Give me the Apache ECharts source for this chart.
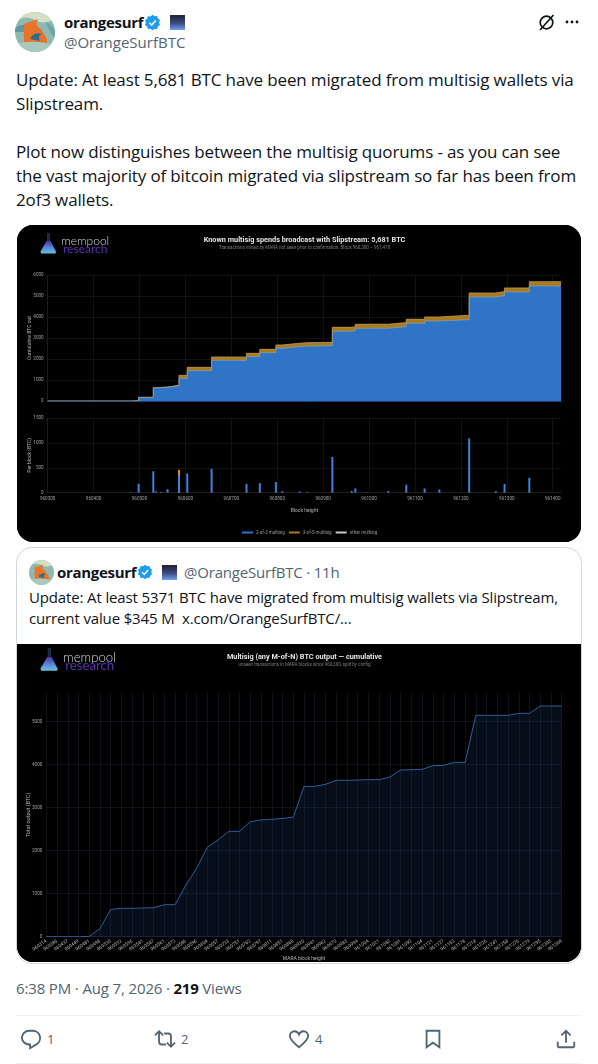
<!DOCTYPE html>
<html>
<head>
<meta charset="utf-8">
<script src="https://cdn.jsdelivr.net/npm/echarts@6/dist/echarts.min.js"></script>
<style>
  html, body { margin: 0; width: 598px; height: 1064px; background: #fff; overflow: hidden; }
  body { position: relative; font-family: "Open Sans", "Noto Sans", sans-serif; color: #0f1419; }
  .t { position: absolute; white-space: nowrap; line-height: 20px; height: 20px; letter-spacing: -0.14px; }
  .b { font-weight: 700; letter-spacing: -0.3px; }
  .g { color: #536471; }
  .i { position: absolute; }
  #card { position: absolute; left: 16px; top: 547px; width: 564px; height: 415px; border: 1px solid #cfd9de; border-radius: 16px; }
  .hr { position: absolute; left: 16px; width: 566px; height: 1px; background: #eff3f4; }
  #chartA { position: absolute; left: 17px; top: 225px; width: 564px; height: 317px; border-radius: 16px; overflow: hidden; background: #000; filter: blur(0.3px); }
  #chartB { position: absolute; left: 17px; top: 644px; width: 564px; height: 318px; border-radius: 0 0 16px 16px; overflow: hidden; background: #000; filter: blur(0.3px); }
</style>
</head>
<body>
<svg class="i" style="left:15px;top:12px" width="40" height="40" viewBox="0 0 40 40">
  <defs><clipPath id="av"><circle cx="20" cy="20" r="20"/></clipPath></defs>
  <g clip-path="url(#av)"><rect width="40" height="40" fill="#8fb9b0"/><path d="M0 10Q10 2 20 8T40 6V0H0Z" fill="#d5dfc8"/><path d="M0 16Q8 10 14 15V20H0Z" fill="#5f9aa0"/><path d="M9 32V12L23 7Q19 14 26 17L32 27V32Z" fill="#e8742a"/><path d="M15 27Q19 19 27 22Q22 24 25 29Z" fill="#2f6f86"/><path d="M0 32Q20 27 40 33V40H0Z" fill="#a8c9bd"/><path d="M30 10Q36 12 40 18V28Q34 18 30 10Z" fill="#6fa6a6"/></g>
</svg>
<div class="t b" style="left:64px;top:12px;font-size:15px">orangesurf</div>
<svg class="i" style="left:144px;top:14px" width="17" height="17" viewBox="0 0 22 22"><path d="M11 1l2.700 2 3.300-.3 1 3.200 2.700 2-1.200 3.100 1.200 3.100-2.700 2-1 3.200-3.300-.3L11 21l-2.700-2-3.300.3-1-3.200-2.700-2 1.200-3.100L1.300 8l2.700-2 1-3.200 3.300.3z" fill="#1d9bf0"/><path d="M7 11.300l3 3 5.300-6" stroke="#fff" stroke-width="2" fill="none"/></svg>
<svg class="i" style="left:170px;top:15px" width="15" height="15"><defs><linearGradient id="sq" x1="0" y1="0" x2="0" y2="1"><stop offset="0.1" stop-color="#25273f"/><stop offset="0.55" stop-color="#3e4a80"/><stop offset="1" stop-color="#6ea0f2"/></linearGradient></defs><rect width="15" height="15" fill="url(#sq)"/></svg>
<div class="t g" style="left:64px;top:32px;font-size:15px;letter-spacing:0">@OrangeSurfBTC</div>
<svg class="i" style="left:537px;top:13px" width="19" height="19" viewBox="0 0 19 19" fill="none" stroke="#0f1419" stroke-width="1.700"><circle cx="9.500" cy="9.500" r="6.300"/><path d="M3 17L16.500 2"/></svg>
<svg class="i" style="left:564px;top:19px" width="16" height="6"><circle cx="3" cy="3" r="1.400" fill="#0f1419"/><circle cx="8" cy="3" r="1.400" fill="#0f1419"/><circle cx="13" cy="3" r="1.400" fill="#0f1419"/></svg>

<div class="t" style="left:16px;top:70px;font-size:17px">Update: At least 5,681 BTC have been migrated from multisig wallets via</div>
<div class="t" style="left:16px;top:94px;font-size:17px">Slipstream.</div>
<div class="t" style="left:16px;top:142px;font-size:17px">Plot now distinguishes between the multisig quorums - as you can see</div>
<div class="t" style="left:16px;top:166px;font-size:17px">the vast majority of bitcoin migrated via slipstream so far has been from</div>
<div class="t" style="left:16px;top:190px;font-size:17px">2of3 wallets.</div>

<div id="chartA"></div>

<div id="card"></div>
<svg class="i" style="left:29px;top:560px" width="25" height="25" viewBox="0 0 40 40"><g clip-path="url(#av)"><rect width="40" height="40" fill="#8fb9b0"/><path d="M0 10Q10 2 20 8T40 6V0H0Z" fill="#d5dfc8"/><path d="M9 32V12L23 7Q19 14 26 17L32 27V32Z" fill="#e8742a"/><path d="M15 27Q19 19 27 22Q22 24 25 29Z" fill="#2f6f86"/><path d="M0 32Q20 27 40 33V40H0Z" fill="#a8c9bd"/></g></svg>
<div class="t b" style="left:57px;top:562px;font-size:15px">orangesurf</div>
<svg class="i" style="left:137px;top:564px" width="16" height="16" viewBox="0 0 22 22"><path d="M11 1l2.700 2 3.300-.3 1 3.200 2.700 2-1.200 3.100 1.200 3.100-2.700 2-1 3.200-3.300-.3L11 21l-2.700-2-3.300.3-1-3.200-2.700-2 1.200-3.100L1.300 8l2.700-2 1-3.200 3.300.3z" fill="#1d9bf0"/><path d="M7 11.300l3 3 5.300-6" stroke="#fff" stroke-width="2" fill="none"/></svg>
<svg class="i" style="left:162px;top:565px" width="15" height="15"><rect width="15" height="15" fill="url(#sq)"/></svg>
<div class="t g" style="left:184px;top:562px;font-size:15px;letter-spacing:-0.2px">@OrangeSurfBTC · 11h</div>
<div class="t" style="left:29px;top:587px;font-size:15px">Update: At least 5371 BTC have migrated from multisig wallets via Slipstream,</div>
<div class="t" style="left:29px;top:608px;font-size:15px">current value $345 M&nbsp; x.com/OrangeSurfBTC/...</div>

<div id="chartB"></div>

<div class="t g" style="left:16px;top:978px;font-size:15px">6:38 PM · Aug 7, 2026 · <span class="b" style="color:#0f1419">219</span> Views</div>
<div class="hr" style="top:1015px"></div>
<div class="hr" style="top:1063px"></div>
<svg class="i" style="left:20px;top:1028px" width="22" height="22" viewBox="0 0 24 24" fill="none" stroke="#536471" stroke-width="2"><path d="M10 3h4a8 8 0 0 1 3 15.400L11 22v-4h-1a8 8 0 0 1-8-7.500A8 8 0 0 1 10 3z"/></svg>
<div class="t g" style="left:47px;top:1029px;font-size:13px">1</div>
<svg class="i" style="left:154px;top:1028px" width="22" height="22" viewBox="0 0 24 24" fill="none" stroke="#536471" stroke-width="2"><path d="M1 8l4.500-4.500L10 8M5.500 4v11a3 3 0 0 0 3 3H13M23 16l-4.500 4.500L14 16M18.500 20V9a3 3 0 0 0-3-3H11"/></svg>
<div class="t g" style="left:181px;top:1029px;font-size:13px">2</div>
<svg class="i" style="left:288px;top:1028px" width="22" height="22" viewBox="0 0 24 24" fill="none" stroke="#536471" stroke-width="2"><path d="M12 21C5 15.500 2 12 2 8.500A5 5 0 0 1 7 3.500c2 0 4 1 5 3.500 1-2.500 3-3.500 5-3.500a5 5 0 0 1 5 5c0 3.500-3 7-10 12.500z"/></svg>
<div class="t g" style="left:315px;top:1029px;font-size:13px">4</div>
<svg class="i" style="left:422px;top:1028px" width="22" height="22" viewBox="0 0 24 24" fill="none" stroke="#536471" stroke-width="2"><path d="M5 3h14v18l-7-5-7 5z"/></svg>
<svg class="i" style="left:555px;top:1028px" width="22" height="22" viewBox="0 0 24 24" fill="none" stroke="#536471" stroke-width="2"><path d="M12 16V3M7 8l5-5 5 5M3 15v5a1 1 0 0 0 1 1h16a1 1 0 0 0 1-1v-5"/></svg>

<script>
// per-block spends. The *Top arrays are where the band ends, bars overlap back to front
const perBlockHeights = [960481, 960498, 960530, 960536, 960547, 960561, 960586, 960604, 960657, 960733, 960762, 960797, 960811, 960849, 960865, 960920, 960962, 960970, 960994, 961042, 961081, 961121, 961153, 961218, 961276, 961295, 961349]
const perBlock2of3 = [10, 180, 430, 25, 15, 70, 345, 385, 480, 175, 190, 215, 30, 25, 15, 720, 35, 85, 8, 35, 160, 85, 65, 1090, 30, 175, 300]
const perBlock3of5Top = [0, 0, 0, 0, 0, 0, 460, 0, 0, 0, 0, 0, 0, 0, 0, 0, 0, 0, 0, 0, 0, 0, 0, 0, 0, 0, 0]
const perBlockOtherTop = [0, 0, 0, 0, 0, 0, 0, 0, 0, 0, 0, 0, 0, 0, 0, 0, 0, 0, 0, 0, 0, 0, 0, 0, 0, 0, 0]

// cumulative
const cumHeights = [960300, 960481, 960498, 960530, 960536, 960547, 960561, 960586, 960604, 960657, 960733, 960762, 960797, 960811, 960849, 960865, 960920, 960962, 960970, 960994, 961042, 961081, 961121, 961153, 961218, 961276, 961295, 961349, 961418]
const cum2of3 = [0, 10, 175, 625, 640, 655, 725, 1080, 1444, 1936, 2111, 2302, 2508, 2587, 2610, 2635, 3317, 3350, 3460, 3465, 3540, 3698, 3810, 3873, 4952, 5016, 5190, 5476, 5476]
const cum3of5Top = [0, 10, 175, 635, 650, 665, 745, 1222, 1603, 2095, 2270, 2460, 2667, 2746, 2770, 2794, 3508, 3530, 3651, 3655, 3730, 3889, 4000, 4079, 5143, 5206, 5381, 5678, 5678]
const cumOtherTop = [0, 10, 175, 635, 650, 665, 745, 1222, 1603, 2095, 2270, 2460, 2667, 2750, 2774, 2798, 3512, 3534, 3655, 3659, 3734, 3893, 4004, 4083, 5147, 5210, 5385, 5681, 5681]

// quoted tweet chart
const maraHeights = ['960314', '960386', '960437', '960449', '960481', '960498', '960530', '960532', '960536', '960541', '960547', '960561', '960572', '960586', '960596', '960604', '960657', '960733', '960751', '960762', '960797', '960811', '960851', '960868', '960920', '960941', '960962', '960970', '960983', '960994', '961004', '961021', '961042', '961081', '961092', '961104', '961121', '961127', '961153', '961178', '961218', '961226', '961241', '961258', '961276', '961279', '961295', '961302', '961309']
const maraTotals = [0, 0, 0, 0, 5, 190, 635, 660, 660, 668, 675, 745, 745, 1200, 1590, 2080, 2250, 2450, 2450, 2675, 2715, 2730, 2750, 2780, 3496, 3496, 3543, 3636, 3636, 3643, 3651, 3651, 3713, 3876, 3884, 3891, 3977, 3984, 4054, 4054, 5147, 5147, 5147, 5147, 5194, 5194, 5364, 5364, 5364]

const FONT = 'Roboto'
const TICK = { color: '#a0a0a0', fontSize: 4.600, fontFamily: FONT, formatter: v => String(v) }
const NAME = { color: '#b5b5b5', fontSize: 5, fontFamily: FONT }
const GRID_LINE = { lineStyle: { color: '#181818', width: 0.7 } }
const BLUE = '#3074c6'
const ORANGE = '#aa7a1e'
const OTHER = '#c8c8c8'

function pairs(xs, ys) {
  return xs.map((x, i) => [x, ys[i]])
}

// flask + wordmark, drawn into the chart's graphic layer
function logo(x, y, s) {
  return [
    { type: 'polygon', x, y, shape: { points: [[7 * s, 1 * s], [10 * s, 1 * s], [10 * s, 9 * s], [7 * s, 9 * s]] }, style: { fill: '#1e2a44' } },
    {
      type: 'polygon', x, y,
      shape: { points: [[6.500 * s, 9 * s], [10.500 * s, 9 * s], [16 * s, 19.500 * s], [15.500 * s, 21.500 * s], [1 * s, 21.500 * s], [0.500 * s, 19.500 * s]] },
      style: { fill: new echarts.graphic.LinearGradient(0, 0, 0, 1, [{ offset: 0, color: '#4a36a0' }, { offset: 0.5, color: '#5a7fd8' }, { offset: 1, color: '#63c4dc' }]) }
    },
    { type: 'text', x: x + 21 * s, y: y + 3.500 * s, style: { text: 'mempool', fill: '#d5d5d5', font: `300 ${12 * s}px Lato` } },
    { type: 'text', x: x + 23 * s, y: y + 11.500 * s, style: { text: 'research', fill: '#5b32ad', font: `400 ${12 * s}px Lato` } }
  ]
}

const chartA = echarts.init(document.getElementById('chartA'))
chartA.setOption({
  backgroundColor: '#000',
  animation: false,
  textStyle: { fontFamily: FONT },
  title: {
    text: 'Known multisig spends broadcast with Slipstream: 5,681 BTC',
    subtext: 'Transactions mined by MARA not seen prior to confirmation. Block 960,300 – 961,418',
    left: 287.500, top: 12, padding: 0, textAlign: 'center', itemGap: 1.500,
    textStyle: { color: '#e6e6e6', fontSize: 7.300, fontWeight: 700, fontFamily: FONT },
    subtextStyle: { color: '#7d7d7d', fontSize: 4.500, fontFamily: FONT }
  },
  graphic: logo(23, 7, 1),
  legend: {
    data: ['2-of-3 multisig', '3-of-5 multisig', 'other multisig'],
    left: 225, top: 305, padding: 0, icon: 'rect', itemWidth: 11, itemHeight: 2, itemGap: 4,
    textStyle: { color: '#9a9a9a', fontSize: 4.500, fontFamily: FONT, padding: [0, 0, 0, -2] }
  },
  grid: [
    { left: 30.700, right: 20, top: 50, height: 126, outerBoundsMode: 'none' },
    { left: 30.700, right: 20, top: 193, height: 74.700, outerBoundsMode: 'none' }
  ],
  xAxis: [
    { type: 'value', gridIndex: 0, min: 960300, max: 961418, interval: 100, axisLabel: { show: false }, axisTick: { show: false }, axisLine: { lineStyle: { color: '#1f4f8f', width: 0.8 } }, splitLine: { ...GRID_LINE, showMaxLine: false } },
    {
      type: 'value', gridIndex: 1, min: 960300, max: 961418, interval: 100,
      name: 'Block height', nameLocation: 'middle', nameGap: 16, nameMoveOverlap: false, nameTextStyle: NAME,
      axisLabel: { ...TICK, margin: 4, showMaxLabel: false },
      axisTick: { show: false }, axisLine: { lineStyle: { color: '#222', width: 0.7 } }, splitLine: { ...GRID_LINE, showMaxLine: false }
    }
  ],
  yAxis: [
    {
      type: 'value', gridIndex: 0, min: 0, max: 6000, interval: 1000,
      name: 'Cumulative BTC out', nameLocation: 'middle', nameGap: 15, nameMoveOverlap: false, nameTextStyle: NAME,
      axisLabel: { ...TICK, margin: 4 }, axisTick: { show: false }, axisLine: { show: true, lineStyle: { color: '#222', width: 0.7 } }, splitLine: GRID_LINE
    },
    {
      type: 'value', gridIndex: 1, min: 0, max: 1500, interval: 500,
      name: 'Per block (BTC)', nameLocation: 'middle', nameGap: 15, nameMoveOverlap: false, nameTextStyle: NAME,
      axisLabel: { ...TICK, margin: 4 }, axisTick: { show: false }, axisLine: { show: true, lineStyle: { color: '#222', width: 0.7 } }, splitLine: GRID_LINE
    }
  ],
  // ECharts stacks x on two value axes, so the bands are overlapped back to front instead
  series: [
    { name: 'other multisig', type: 'line', xAxisIndex: 0, yAxisIndex: 0, step: 'end', showSymbol: false, data: pairs(cumHeights, cumOtherTop), itemStyle: { color: OTHER }, lineStyle: { color: OTHER, width: 0.4 }, areaStyle: { color: OTHER, opacity: 1 } },
    { name: '3-of-5 multisig', type: 'line', xAxisIndex: 0, yAxisIndex: 0, step: 'end', showSymbol: false, data: pairs(cumHeights, cum3of5Top), itemStyle: { color: ORANGE }, lineStyle: { color: ORANGE, width: 0.6 }, areaStyle: { color: ORANGE, opacity: 1 } },
    { name: '2-of-3 multisig', type: 'line', xAxisIndex: 0, yAxisIndex: 0, step: 'end', showSymbol: false, data: pairs(cumHeights, cum2of3), itemStyle: { color: BLUE }, lineStyle: { color: '#8aa6c8', width: 0.6 }, areaStyle: { color: BLUE, opacity: 1 } },
    { name: 'other multisig', type: 'bar', xAxisIndex: 1, yAxisIndex: 1, barWidth: 2, barGap: '-100%', data: pairs(perBlockHeights, perBlockOtherTop), itemStyle: { color: OTHER } },
    { name: '3-of-5 multisig', type: 'bar', xAxisIndex: 1, yAxisIndex: 1, barWidth: 2, barGap: '-100%', data: pairs(perBlockHeights, perBlock3of5Top), itemStyle: { color: '#d08f1e' } },
    { name: '2-of-3 multisig', type: 'bar', xAxisIndex: 1, yAxisIndex: 1, barWidth: 2, barGap: '-100%', data: pairs(perBlockHeights, perBlock2of3), itemStyle: { color: '#3c83dc' } }
  ]
})

const chartB = echarts.init(document.getElementById('chartB'))
chartB.setOption({
  backgroundColor: '#000',
  animation: false,
  textStyle: { fontFamily: FONT },
  title: {
    text: 'Multisig (any M-of-N) BTC output — cumulative',
    subtext: 'unseen transactions in MARA blocks since 960,300, split by config',
    left: 287.500, top: 9.500, padding: 0, textAlign: 'center', itemGap: 1.500,
    textStyle: { color: '#e6e6e6', fontSize: 7.300, fontWeight: 700, fontFamily: FONT },
    subtextStyle: { color: '#7d7d7d', fontSize: 4.500, fontFamily: FONT }
  },
  graphic: logo(23, 3, 1.100),
  grid: { left: 29.300, right: 19.300, top: 49, bottom: 25.300, outerBoundsMode: 'none' },
  xAxis: {
    type: 'category', data: maraHeights, boundaryGap: false,
    name: 'MARA block height', nameLocation: 'middle', nameGap: 20, nameMoveOverlap: false, nameTextStyle: NAME,
    axisLabel: { color: '#b8b8b8', fontSize: 4.800, fontFamily: FONT, interval: 0, rotate: 35, margin: 4 },
    axisTick: { show: false }, axisLine: { lineStyle: { color: '#222', width: 0.7 } },
    splitLine: { show: true, interval: 0, lineStyle: { color: '#16191e', width: 0.7 } }
  },
  yAxis: {
    type: 'value', min: 0, max: 5667, interval: 1000,
    name: 'Total output (BTC)', nameLocation: 'middle', nameGap: 15, nameMoveOverlap: false, nameTextStyle: { ...NAME, fontSize: 5.500 },
    axisLabel: { ...TICK, margin: 4, showMaxLabel: false }, axisTick: { show: false }, axisLine: { show: false },
    splitLine: { showMaxLine: false, lineStyle: { color: '#16191e', width: 0.7 } }
  },
  series: [{
    name: 'Total output', type: 'line', data: maraTotals, showSymbol: false, itemStyle: { color: '#2f5d9a' },
    lineStyle: { color: '#2f5d9a', width: 1 }, areaStyle: { color: '#2f6fc0', opacity: 0.13 }
  }]
})
</script>
</body>
</html>
